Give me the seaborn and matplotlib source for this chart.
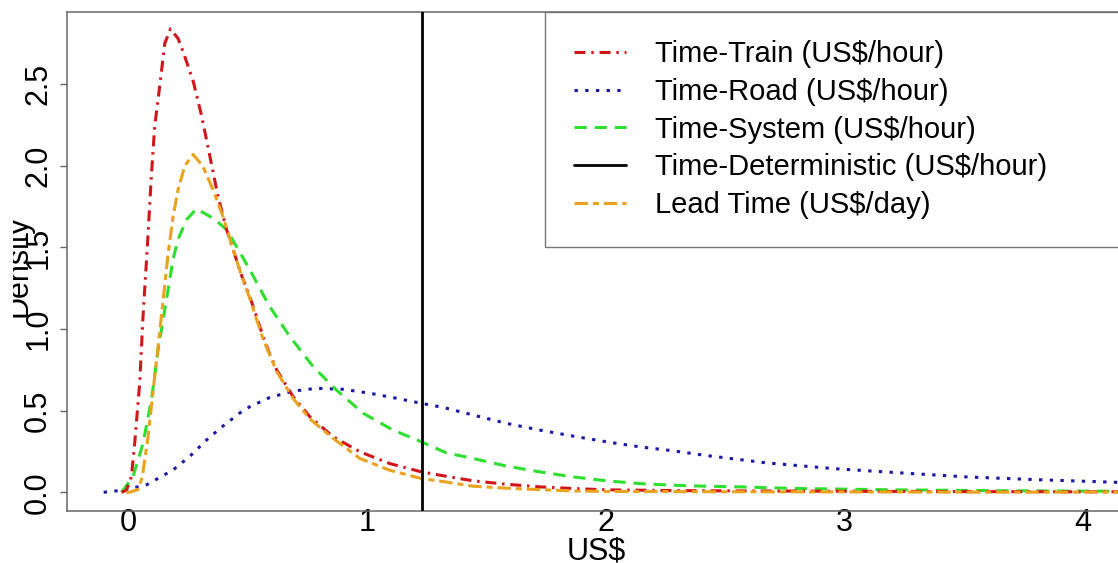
import numpy as np
import pandas as pd
import seaborn as sns
import matplotlib
matplotlib.use("Agg")
import matplotlib.pyplot as plt
from matplotlib.patches import Rectangle

# ---------------- data ----------------
train_x = [-0.03, -0.01, 0.011, 0.025, 0.046, 0.06, 0.077, 0.095, 0.109, 0.13, 0.151,
           0.175, 0.207, 0.228, 0.27, 0.305, 0.34, 0.374, 0.41, 0.437, 0.47, 0.507,
           0.535, 0.563, 0.59, 0.62, 0.689, 0.759, 0.857, 0.969, 1.094, 1.227, 1.346,
           1.444, 1.584, 1.723, 1.863, 2.0, 2.3, 2.6, 3.0, 3.5, 4.0, 4.2]
train_y = [0.0, 0.012, 0.094, 0.30, 0.67, 1.08, 1.48, 1.94, 2.245, 2.49, 2.75,
           2.84, 2.78, 2.70, 2.52, 2.31, 2.06, 1.815, 1.61, 1.49, 1.34, 1.20,
           1.08, 0.955, 0.85, 0.75, 0.586, 0.463, 0.34, 0.248, 0.176, 0.125, 0.094,
           0.07, 0.049, 0.033, 0.023, 0.015, 0.01, 0.008, 0.006, 0.004, 0.003, 0.003]

road_x = [-0.105, -0.024, 0.074, 0.186, 0.256, 0.326, 0.39, 0.465, 0.507, 0.59, 0.689,
          0.787, 0.899, 1.01, 1.122, 1.227, 1.318, 1.444, 1.584, 1.723, 1.863, 2.003,
          2.143, 2.282, 2.422, 2.674, 2.953, 3.233, 3.512, 3.79, 4.2]
road_y = [0.0, 0.013, 0.045, 0.137, 0.22, 0.32, 0.40, 0.485, 0.524, 0.58, 0.62,
          0.637, 0.631, 0.607, 0.576, 0.545, 0.52, 0.473, 0.422, 0.381, 0.344, 0.309,
          0.278, 0.254, 0.225, 0.18, 0.145, 0.119, 0.094, 0.078, 0.058]

system_x = [-0.03, 0.018, 0.06, 0.095, 0.123, 0.158, 0.186, 0.207, 0.242, 0.284, 0.353,
            0.41, 0.458, 0.507, 0.59, 0.675, 0.773, 0.87, 0.983, 1.108, 1.227, 1.33,
            1.444, 1.584, 1.723, 1.863, 2.003, 2.143, 2.282, 2.422, 2.562, 2.8, 3.2,
            3.6, 4.0, 4.2]
system_y = [0.0, 0.096, 0.30, 0.565, 0.87, 1.18, 1.43, 1.55, 1.67, 1.737, 1.68,
            1.61, 1.49, 1.365, 1.14, 0.955, 0.77, 0.627, 0.484, 0.381, 0.309, 0.242,
            0.207, 0.16, 0.125, 0.094, 0.07, 0.053, 0.043, 0.037, 0.033, 0.023, 0.015,
            0.01, 0.007, 0.006]

lead_x = [-0.01, 0.004, 0.039, 0.057, 0.081, 0.109, 0.137, 0.165, 0.186, 0.207, 0.235,
          0.27, 0.31, 0.353, 0.395, 0.437, 0.47, 0.507, 0.563, 0.62, 0.689, 0.759,
          0.857, 0.969, 1.094, 1.227, 1.33, 1.444, 1.584, 1.723, 1.863, 2.0, 2.5,
          3.0, 3.5, 4.2]
lead_y = [0.0, 0.0, 0.017, 0.094, 0.34, 0.71, 1.08, 1.46, 1.69, 1.856, 2.0,
          2.07, 2.0, 1.856, 1.69, 1.49, 1.34, 1.19, 0.94, 0.74, 0.575, 0.45,
          0.33, 0.207, 0.135, 0.084, 0.063, 0.037, 0.025, 0.016, 0.008, 0.005, 0.003,
          0.002, 0.001, 0.001]

deterministic_x = [1.23]

labels = ["Time-Train (US$/hour)", "Time-Road (US$/hour)", "Time-System (US$/hour)",
          "Time-Deterministic (US$/hour)", "Lead Time (US$/day)"]
y_ticks = [0.0, 0.5, 1.0, 1.5, 2.0, 2.5]
x_ticks = [0, 1, 2, 3, 4]

# ---------------- styling ----------------
sns.set_style("white")
plt.rcParams["font.family"] = ["Liberation Sans", "DejaVu Sans"]
plt.rcParams["text.color"] = "black"
plt.rcParams["axes.labelcolor"] = "black"
plt.rcParams["xtick.color"] = "black"
plt.rcParams["ytick.color"] = "black"

W, H = 1118, 563
fig = plt.figure(figsize=(W / 100, H / 100), dpi=100)
ax_left_px, ax_right_px, ax_top_px, ax_bot_px = 66.7, 1125.0, 11.7, 510.7
ax = fig.add_axes([ax_left_px / W, (H - ax_bot_px) / H,
                   (ax_right_px - ax_left_px) / W, (ax_bot_px - ax_top_px) / H])

lw = 2.2
series = [
    (train_x, train_y, "#d0161b", (0, (3.6, 1.9, 0.8, 1.9)), labels[0], 3),
    (road_x, road_y, "#1a1aa8", (0, (1.1, 2.4)), labels[1], 2),
    (system_x, system_y, "#2ee02e", (0, (4.0, 2.6)), labels[2], 2),
    (lead_x, lead_y, "#eba21e", (0, (4.4, 1.6, 2.0, 1.6)), labels[4], 4),
]
handles = {}
for xs, ys, col, ls, lab, z in series:
    df = pd.DataFrame({"x": xs, "y": ys})
    sns.lineplot(data=df, x="x", y="y", ax=ax, color=col, lw=lw,
                 estimator=None, sort=False, legend=False, zorder=z)
    line = ax.lines[-1]
    line.set_linestyle(ls)
    line.set_label(lab)
    handles[lab] = line

for xv in deterministic_x:
    vl = ax.axvline(xv, color="black", lw=2.0, zorder=5, label=labels[3])
    handles[labels[3]] = vl

ax.set_xlim(-0.26, 4.176)
ax.set_ylim(-0.113, 2.945)

ax.set_yticks(y_ticks)
ax.set_yticklabels([f"{v:.1f}" for v in y_ticks], rotation=90, va="center")
ax.set_xticks(x_ticks)
ax.set_xticklabels([str(v) for v in x_ticks])
ax.tick_params(axis="y", direction="out", length=4.7, width=1.0, color="#666666",
               labelcolor="black", pad=5, labelsize=22, left=True)
ax.tick_params(axis="x", length=0, pad=-2, labelsize=22, labelcolor="black")

for s in ax.spines.values():
    s.set_color("#666666")
    s.set_linewidth(1.1)

ax.set_xlabel("US$", fontsize=22, va="top", color="black")
ax.xaxis.set_label_coords(0.5, -0.052)
ax.set_ylabel("Density", fontsize=22, color="black")
ax.yaxis.set_label_coords((33 - ax_left_px) / (ax_right_px - ax_left_px), 0.49)

leg_x0 = (545 - ax_left_px) / (ax_right_px - ax_left_px)
leg = ax.legend([handles[l] for l in labels], labels,
                loc="upper left", bbox_to_anchor=(leg_x0, 1.0, 1.0 - leg_x0, 0.0),
                mode="expand", borderaxespad=0, fontsize=21, frameon=True,
                fancybox=False, framealpha=1, edgecolor="#777777",
                borderpad=0.98, labelspacing=0.33, handlelength=1.8,
                handletextpad=1.0)
leg.get_frame().set_linewidth(1.0)
for t in leg.get_texts():
    t.set_color("black")

# the reference image is cropped just left of the y-axis title
fig.patches.append(Rectangle((0, 0), 13 / W, 1, transform=fig.transFigure,
                             facecolor="white", edgecolor="none", zorder=10))

fig.savefig("out.png", dpi=100)
